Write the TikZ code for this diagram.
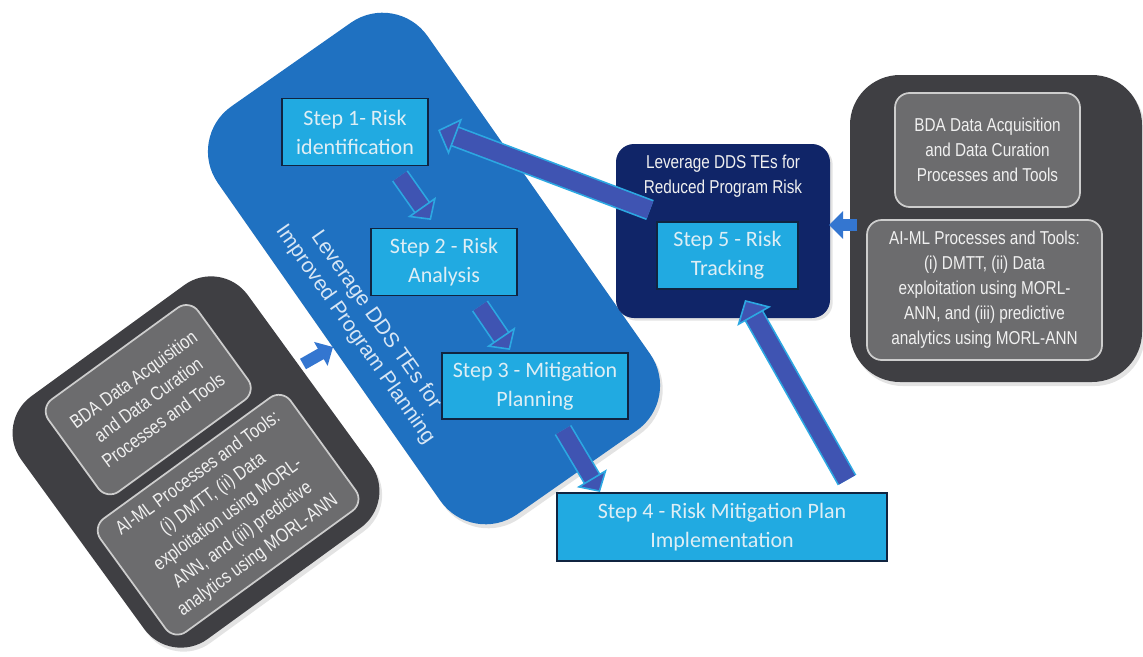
\documentclass[tikz,border=0pt]{standalone}
\usepackage{fontspec}
\setmainfont{Carlito}
\newfontfamily\narrowfont[FakeStretch=0.82]{Liberation Sans}
\newfontfamily\arialfont{Liberation Sans}
\usetikzlibrary{arrows.meta,shadows}
\definecolor{bigblue}{RGB}{31,113,193}
\definecolor{stepfill}{RGB}{33,170,225}
\definecolor{stepline}{RGB}{16,36,64}
\definecolor{steptext}{RGB}{222,238,245}
\definecolor{navybg}{RGB}{16,37,104}
\definecolor{outergray}{RGB}{63,63,67}
\definecolor{innergray}{RGB}{108,108,110}
\definecolor{innerline}{RGB}{205,205,205}
\definecolor{arrowfill}{RGB}{63,84,178}
\definecolor{glow}{RGB}{44,168,226}
\definecolor{smallarrow}{RGB}{52,118,208}
\definecolor{lighttext}{RGB}{215,230,245}
\definecolor{graytext}{RGB}{240,240,240}
\begin{document}
\begin{tikzpicture}[x=0.75pt,y=-0.75pt,
  stepbox/.style={draw=stepline, line width=1pt, fill=stepfill, text=steptext, inner sep=0pt, align=center, font=\fontsize{16.5}{21.75}\selectfont},
  outerbox/.style={fill=outergray, inner sep=0pt, drop shadow={opacity=0.22, shadow xshift=2pt, shadow yshift=-3pt}},
  innerbox/.style={fill=innergray, draw=innerline, line width=1.3pt, rounded corners=11pt, text=graytext, align=center, inner sep=0pt, font=\narrowfont\fontsize{14}{18.75}\selectfont},
  planbox/.style={fill=bigblue, rounded corners=41.25pt, minimum width=373.5pt, minimum height=192pt, inner sep=0pt, drop shadow={opacity=0.22, shadow xshift=2pt, shadow yshift=-3pt}},
  riskbox/.style={fill=navybg, rounded corners=13.5pt, minimum width=160.5pt, minimum height=130.5pt, inner sep=0pt, drop shadow={opacity=0.22, shadow xshift=2pt, shadow yshift=-2pt}},
  bigarrow/.style={draw=arrowfill, line width=13.5pt, -{Triangle[length=14pt,width=29pt,fill=arrowfill,color=glow,line width=1.2pt]}, preaction={draw=glow, line width=16pt, arrows=-, shorten >=12pt}},
  midarrow/.style={draw=arrowfill, line width=12pt, -{Triangle[length=12pt,width=26pt,fill=arrowfill,color=glow,line width=1.2pt]}, preaction={draw=glow, line width=14.5pt, arrows=-, shorten >=10pt}},
  smallarr/.style={draw=smallarrow, line width=9pt, -{Triangle[length=10.5pt,width=20pt,fill=smallarrow,color=smallarrow]}}
]
\path[use as bounding box] (0,0) rectangle (1143,657);

% big blue planning box
\node[planbox, rotate=-55] (plan) at (434,268.5) {};
\begin{scope}[shift={(434,268.5)}, rotate=-55, transform shape]
  \node[text=lighttext, align=center, inner sep=0pt, font=\arialfont\fontsize{15.75}{19}\selectfont] (plantext) at (9,90) {Leverage DDS TEs for\\Improved Program Planning};
\end{scope}

% left gray group
\begin{scope}[shift={(196,462)}, rotate=36, transform shape]
  \node[outerbox, rounded corners=34pt, minimum width=210pt, minimum height=225pt] (lg) at (0,0) {};
  \node[innerbox, minimum width=138.75pt, minimum height=85.5pt, font=\narrowfont\fontsize{14.5}{19}\selectfont] (lg1) at (-2,-78.5) {BDA Data Acquisition\\and Data Curation\\Processes and Tools};
  \node[innerbox, minimum width=176.25pt, minimum height=105pt, font=\narrowfont\fontsize{14.5}{19}\selectfont] (lg2) at (-5,61.5) {AI-ML Processes and Tools:\\(i) DMTT, (ii) Data\\exploitation using MORL-\\ANN, and (iii) predictive\\analytics using MORL-ANN};
\end{scope}

% right gray group
\begin{scope}[shift={(996,228.5)}]
  \node[outerbox, rounded corners=37.5pt, minimum width=219pt, minimum height=230.25pt] (rg) at (0,0) {};
  \node[innerbox, minimum width=138.75pt, minimum height=85.5pt] (rg1) at (-8.5,-78.5) {BDA Data Acquisition\\and Data Curation\\Processes and Tools};
  \node[innerbox, minimum width=176.25pt, minimum height=105pt] (rg2) at (-11.5,61.5) {AI-ML Processes and Tools:\\(i) DMTT, (ii) Data\\exploitation using MORL-\\ANN, and (iii) predictive\\analytics using MORL-ANN};
\end{scope}

% navy risk box
\node[riskbox] (risk) at (723,231) {};
\node[text=graytext, align=center, inner sep=0pt, font=\narrowfont\fontsize{14}{18.75}\selectfont] (risktitle) at (723,176) {Leverage DDS TEs for\\Reduced Program Risk};

% steps
\node[stepbox, minimum width=109.5pt, minimum height=50.25pt] (s1) at (355,132) {Step 1- Risk\\identification};
\node[stepbox, minimum width=109.5pt, minimum height=50.25pt] (s2) at (444,262) {Step 2 - Risk\\Analysis};
\node[stepbox, minimum width=139.5pt, minimum height=49.5pt] (s3) at (535,386) {Step 3 - Mitigation\\Planning};
\node[stepbox, minimum width=247.5pt, minimum height=51pt] (s4) at (722,527) {Step 4 - Risk Mitigation Plan\\Implementation};
\node[stepbox, minimum width=105.75pt, minimum height=50.25pt] (s5) at (727.5,255.5) {Step 5 - Risk\\Tracking};

% arrow ends
\coordinate (a51t) at (650,210);
\coordinate (a51h) at (438,130);
\coordinate (a12t) at (400,176);
\coordinate (a12h) at (431,220);
\coordinate (a23t) at (480,306);
\coordinate (a23h) at (510,350);
\coordinate (a34t) at (563,430);
\coordinate (a34h) at (600,492);
\coordinate (a45t) at (847,480);
\coordinate (a45h) at (745,300);
\coordinate (argt) at (857,225);
\coordinate (argh) at (829,225);
\coordinate (algt) at (303,364);
\coordinate (algh) at (333,347);

\draw[bigarrow] (a51t) -- (a51h);
\draw[bigarrow] (a45t) -- (a45h);
\draw[midarrow] (a12t) -- (a12h);
\draw[midarrow] (a23t) -- (a23h);
\draw[midarrow] (a34t) -- (a34h);
\draw[smallarr] (argt) -- (argh);
\draw[smallarr] (algt) -- (algh);
\end{tikzpicture}
\end{document}
